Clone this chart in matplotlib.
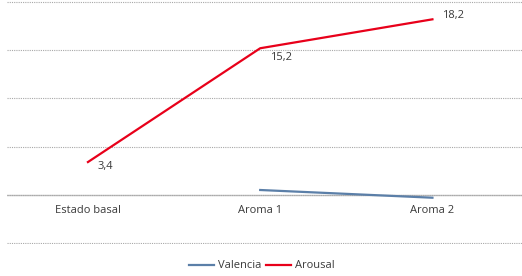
import numpy as np
import matplotlib
matplotlib.use("Agg")
import matplotlib.pyplot as plt

categories = ["Estado basal", "Aroma 1", "Aroma 2"]
valencia = [np.nan, 0.5, -0.3]
arousal = [3.4, 15.2, 18.2]
arousal_labels = ["3,4", "15,2", "18,2"]
label_offsets = [(7, -3), (7, -7), (7, 3)]  # points

plt.rcParams['font.family'] = ['Open Sans', 'DejaVu Sans']
txt = "#3A3A3A"

fig = plt.figure(figsize=(5.22, 2.76), dpi=100)
ax = fig.add_axes([7 / 522, 1 - 244 / 276, 1 - 7 / 522, (244 - 1) / 276])

x = np.arange(len(categories))
ax.plot(x, valencia, color="#5B7FA8", lw=1.6, label="Valencia")
ax.plot(x, arousal, color="#E8001A", lw=1.6, label="Arousal")

for xi, yi, s, off in zip(x, arousal, arousal_labels, label_offsets):
    ax.annotate(s, (xi, yi), xytext=off, textcoords="offset points",
                ha="left", va="center", fontsize=8, color=txt)

ax.set_ylim(-5.1, 20.1)
ax.set_xlim(-0.47, 2.52)
ax.set_yticks(np.arange(-5, 21, 5))
ax.yaxis.grid(True, color="#A8A8A8", lw=0.8, ls=(0, (1, 1)))
ax.axhline(0, color="#BFBFBF", lw=1.0, zorder=1)
ax.tick_params(left=False, labelleft=False, bottom=False, labelbottom=False)
for sp in ax.spines.values():
    sp.set_visible(False)

for xi, c in zip(x, categories):
    ax.annotate(c, (xi, 0), xytext=(0, -11), textcoords="offset points",
                ha="center", va="center", fontsize=8, color=txt)

fig.legend(loc="center", bbox_to_anchor=(262 / 522, 1 - 266 / 276), ncol=2,
           frameon=False, fontsize=8, handlelength=2.2, columnspacing=0.4,
           handletextpad=0.4, labelcolor=txt)

fig.savefig("out.png", dpi=100)
